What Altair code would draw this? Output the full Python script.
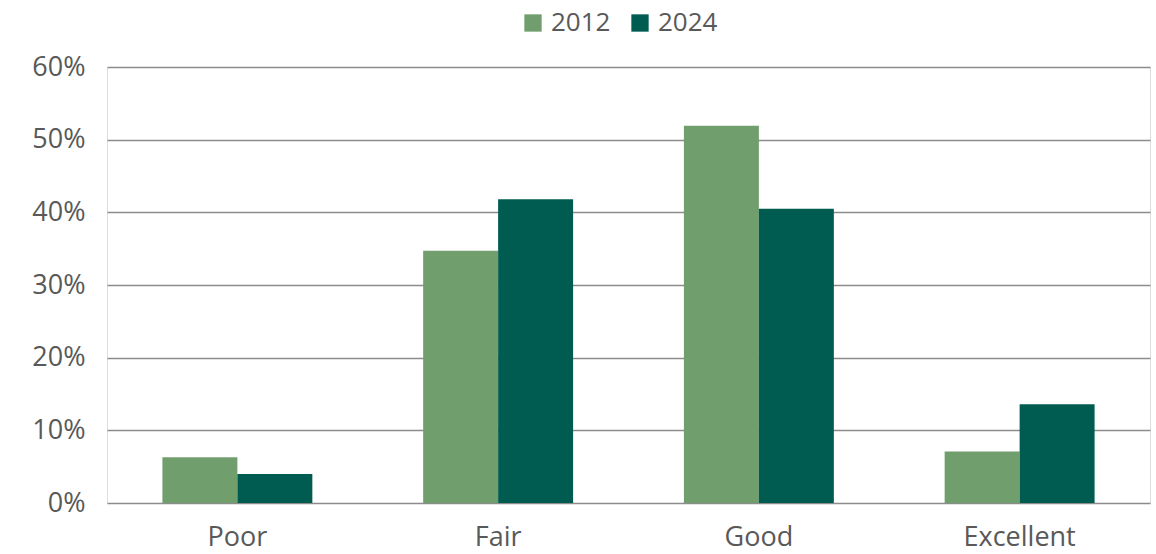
import altair as alt
import pandas as pd

categories = ["Poor", "Fair", "Good", "Excellent"]
years = ["2012", "2024"]
values_2012 = [0.063, 0.347, 0.519, 0.071]
values_2024 = [0.040, 0.418, 0.405, 0.136]
colors = ["#709E6C", "#005B50"]

rows = []
for c, a, b in zip(categories, values_2012, values_2024):
    rows.append({"category": c, "year": "2012", "value": a})
    rows.append({"category": c, "year": "2024", "value": b})
df = pd.DataFrame(rows)

FONT = "Open Sans"
GREY = "#595959"

chart = alt.Chart(df).mark_bar().encode(
    x=alt.X("category:N", sort=categories, title=None,
            scale=alt.Scale(paddingInner=0.425, paddingOuter=0.2125),
            axis=alt.Axis(labelAngle=0, labelFontSize=27, labelColor=GREY, labelFont=FONT,
                          ticks=False, domain=False, labelPadding=21)),
    xOffset=alt.XOffset("year:N", sort=years, scale=alt.Scale(paddingInner=0, paddingOuter=0)),
    y=alt.Y("value:Q", title=None,
            scale=alt.Scale(domain=[0, 0.6], nice=False),
            axis=alt.Axis(format=".0%", values=[0, 0.1, 0.2, 0.3, 0.4, 0.5, 0.6],
                          labelFontSize=27, labelColor=GREY, labelFont=FONT,
                          ticks=False, domain=False, labelPadding=22,
                          grid=True, gridColor="#8c8c8c", gridWidth=1.3)),
    color=alt.Color("year:N", sort=years,
                    scale=alt.Scale(domain=years, range=colors),
                    legend=alt.Legend(title=None, orient="none", direction="horizontal",
                                      legendX=413, legendY=-57, symbolType="square",
                                      symbolSize=300, symbolStrokeWidth=0, symbolOpacity=1,
                                      labelFontSize=26, labelColor=GREY, labelFont=FONT,
                                      labelOffset=5, columnPadding=16)),
).properties(
    width=1043, height=436,
    autosize="none",
    padding={"left": 107, "top": 67, "right": 6, "bottom": 51},
).configure_view(stroke=None).configure(background="white")

chart.save("out.html", embed_options={"renderer": "svg", "actions": False})
